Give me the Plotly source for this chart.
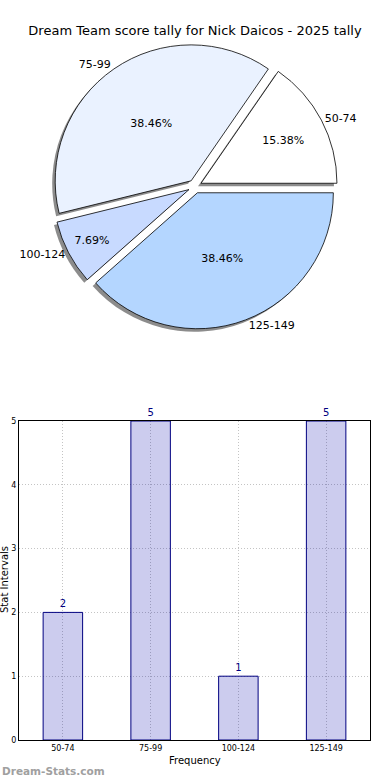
import plotly.graph_objects as go

title = "Dream Team score tally for Nick Daicos - 2025 tally"
categories = ["50-74", "75-99", "100-124", "125-149"]
counts = [2, 5, 1, 5]
pie_colors = ["#ffffff", "#eaf2ff", "#c8daff", "#b4d6ff"]
y_ticks = [0, 1, 2, 3, 4, 5]

# first slice starts at 3 o'clock and runs counterclockwise (plotly anchors the end of slice 1)
rot = 90 - 360 * counts[0] / sum(counts)

pie_dom_x = [0.02, 0.98]
pie_dom_y = [0.578, 0.944]
pull = [0.05, 0.05, 0.05, 0.05]
sx, sy = 3 / 390, 3 / 780

fig = go.Figure()

common = dict(labels=categories, values=counts, sort=False, direction="counterclockwise",
              rotation=rot, pull=pull, showlegend=False)

# shadow
fig.add_trace(go.Pie(
    **common, textinfo="none", hoverinfo="skip",
    marker=dict(colors=["rgba(0,0,0,0.45)"] * 4, line=dict(width=0)),
    domain=dict(x=[pie_dom_x[0] - sx, pie_dom_x[1] - sx], y=[pie_dom_y[0] - sy, pie_dom_y[1] - sy]),
))
# main pie
fig.add_trace(go.Pie(
    **common, texttemplate="%{percent:.2%}", textposition="inside",
    insidetextorientation="horizontal",
    textfont=dict(color="black", size=11, family="DejaVu Sans"),
    marker=dict(colors=pie_colors, line=dict(color="black", width=0.8)),
    domain=dict(x=pie_dom_x, y=pie_dom_y),
))
# outside labels
fig.add_trace(go.Pie(
    **common, textinfo="label", textposition="outside",
    textfont=dict(color="black", size=11, family="DejaVu Sans"),
    marker=dict(colors=["rgba(0,0,0,0)"] * 4, line=dict(width=0)),
    domain=dict(x=pie_dom_x, y=pie_dom_y), hoverinfo="skip",
))

# bar chart
fig.add_trace(go.Bar(
    x=categories, y=counts, width=0.45,
    marker=dict(color="rgba(0,0,170,0.2)", line=dict(color="#000080", width=1)),
    text=[str(c) for c in counts], textposition="outside", cliponaxis=False,
    textfont=dict(color="#000080", size=10, family="DejaVu Sans"),
    xaxis="x", yaxis="y", showlegend=False,
))

fig.update_layout(
    width=390, height=780,
    margin=dict(l=0, r=0, t=0, b=0, autoexpand=False),
    paper_bgcolor="white", plot_bgcolor="white",
    font=dict(family="DejaVu Sans", color="black"),
    title=dict(text=title, x=0.5, xanchor="center", y=1 - 30 / 780, yanchor="middle",
               font=dict(size=13, color="black"), automargin=False),
    xaxis=dict(domain=[19 / 390, 370 / 390], range=[-0.5, 3.5], type="category",
               showline=True, linecolor="black", linewidth=1, mirror=True,
               showgrid=True, gridcolor="#c4c4c4", griddash="1px,2px",
               ticks="", tickfont=dict(size=8), anchor="y", automargin=False),
    yaxis=dict(domain=[1 - 740 / 780, 1 - 421 / 780], range=[0, 5], tickvals=y_ticks,
               showline=True, linecolor="black", linewidth=1, mirror=True,
               showgrid=True, gridcolor="#c4c4c4", griddash="1px,2px",
               ticks="", tickfont=dict(size=8), zeroline=False, anchor="x", automargin=False),
    annotations=[
        dict(text="Frequency", x=0.5 * (19 + 370) / 390, y=1 - 760 / 780, xref="paper", yref="paper",
             showarrow=False, font=dict(size=10), xanchor="center", yanchor="middle"),
        dict(text="Stat Intervals", x=4 / 390, y=1 - 580 / 780, xref="paper", yref="paper",
             showarrow=False, font=dict(size=10), textangle=-90, xanchor="center", yanchor="middle"),
        dict(text="<b>Dream-Stats.com</b>", x=0, y=1 - 771 / 780, xref="paper", yref="paper",
             showarrow=False, font=dict(size=10.5, color="#a0a0a0"), xanchor="left", yanchor="middle"),
    ],
)

fig.write_html("out.html", post_script="document.body.style.margin='0';",
               config={"displayModeBar": False})
